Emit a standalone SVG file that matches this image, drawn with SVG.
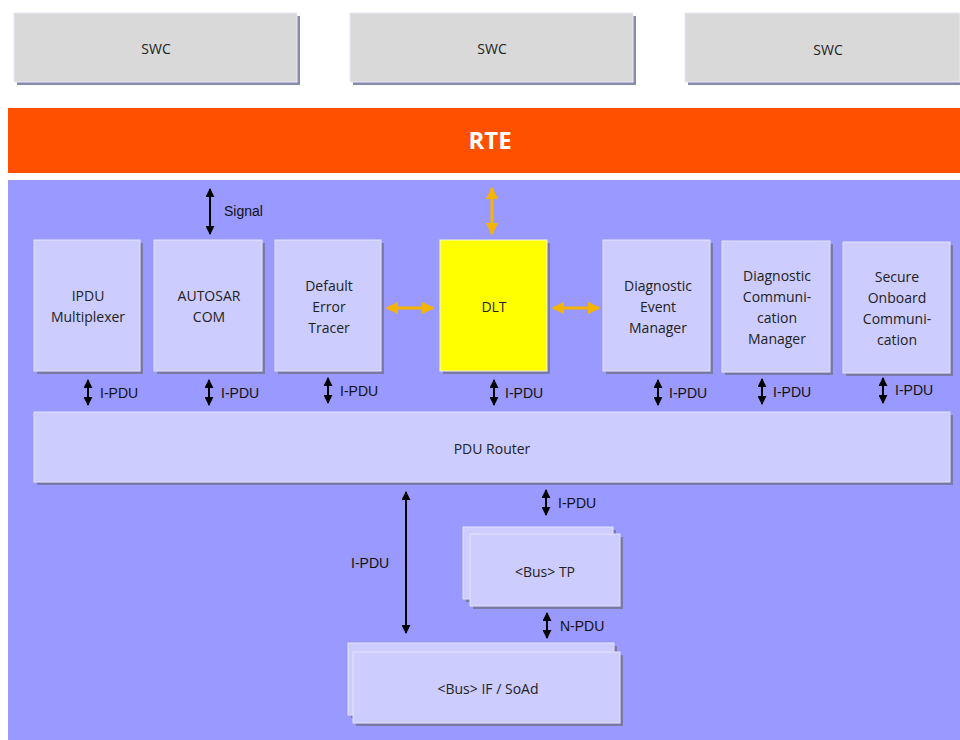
<svg xmlns="http://www.w3.org/2000/svg" width="960" height="740" viewBox="0 0 960 740">
<style>
.sh{fill:#7a7aa6}
.bx{fill:#ccccff;stroke:#e4e4ff;stroke-width:1}
.swc{fill:#d9d9d9;stroke:#e8e8f8;stroke-width:1}
.swcsh{fill:#8a8aaa}
.t{font-family:"Open Sans","Liberation Sans",sans-serif;font-size:14px;fill:#222;text-anchor:middle}
.ts{font-family:"Open Sans","Liberation Sans",sans-serif;font-size:14px;fill:#222;text-anchor:middle}
.lb{font-family:"Liberation Sans",Arial,sans-serif;font-size:14px;fill:#111}
.ar{stroke:#000;stroke-width:2;fill:none;marker-start:url(#ah);marker-end:url(#ah)}
.oa{stroke:#f5b400;stroke-width:3;fill:none;marker-start:url(#oh);marker-end:url(#oh)}
</style>
<defs>
<marker id="ah" viewBox="0 0 10 10" refX="9" refY="5" markerWidth="4.5" markerHeight="4.5" orient="auto-start-reverse" markerUnits="strokeWidth">
<path d="M0,0 L10,5 L0,10 z" fill="#000"/>
</marker>
<marker id="oh" viewBox="0 0 10 10" refX="9" refY="5" markerWidth="4.2" markerHeight="4.2" orient="auto-start-reverse" markerUnits="strokeWidth">
<path d="M0,0 L10,5 L0,10 z" fill="#f5b400"/>
</marker>
</defs>
<rect width="960" height="740" fill="#fff"/>
<g id="swc1"><rect class="swcsh" x="17" y="16" width="283" height="69"/><rect class="swc" x="14" y="13" width="283" height="69"/><text class="ts" x="156" y="54">SWC</text></g>
<g id="swc2"><rect class="swcsh" x="353" y="16" width="283" height="69"/><rect class="swc" x="350" y="13" width="283" height="69"/><text class="ts" x="492" y="54">SWC</text></g>
<g id="swc3"><rect class="swcsh" x="688" y="16" width="275" height="69"/><rect class="swc" x="685" y="13" width="275" height="69"/><text class="ts" x="828" y="55">SWC</text></g>
<g id="rte"><rect x="8" y="108" width="952" height="65" fill="#ff5000"/><text x="490" y="149" font-family="'Open Sans','Liberation Sans',sans-serif" font-size="24" font-weight="bold" fill="#fff" text-anchor="middle">RTE</text></g>
<rect id="bsw" x="8" y="180" width="952" height="560" fill="#9999ff"/>
<g id="ipdum"><rect class="sh" x="37" y="243" width="106" height="131"/><rect class="bx" x="34" y="240" width="106" height="131"/><text class="t" x="88" y="301">IPDU</text><text class="t" x="88" y="322">Multiplexer</text></g>
<g id="com"><rect class="sh" x="157" y="243" width="108" height="131"/><rect class="bx" x="154" y="240" width="108" height="131"/><text class="t" x="209" y="301">AUTOSAR</text><text class="t" x="209" y="322">COM</text></g>
<g id="det"><rect class="sh" x="278" y="243" width="106" height="131"/><rect class="bx" x="275" y="240" width="106" height="131"/><text class="t" x="329" y="291">Default</text><text class="t" x="329" y="312">Error</text><text class="t" x="329" y="333">Tracer</text></g>
<g id="dlt"><rect class="sh" x="443" y="243" width="107" height="131"/><rect x="440" y="240" width="107" height="131" fill="#ffff00" stroke="#f4f4e0"/><text class="t" x="494" y="312">DLT</text></g>
<g id="dem"><rect class="sh" x="606" y="243" width="107" height="131"/><rect class="bx" x="603" y="240" width="107" height="131"/><text class="t" x="658" y="291">Diagnostic</text><text class="t" x="658" y="312">Event</text><text class="t" x="658" y="333">Manager</text></g>
<g id="dcm"><rect class="sh" x="725" y="244" width="108" height="131"/><rect class="bx" x="722" y="241" width="108" height="131"/><text class="t" x="777" y="281">Diagnostic</text><text class="t" x="777" y="302">Communi-</text><text class="t" x="777" y="323">cation</text><text class="t" x="777" y="344">Manager</text></g>
<g id="secoc"><rect class="sh" x="846" y="245" width="107" height="131"/><rect class="bx" x="843" y="242" width="107" height="131"/><text class="t" x="897" y="282">Secure</text><text class="t" x="897" y="303">Onboard</text><text class="t" x="897" y="324">Communi-</text><text class="t" x="897" y="345">cation</text></g>
<g id="pdur"><rect class="sh" x="37" y="415" width="916" height="70"/><rect class="bx" x="34" y="412" width="916" height="70"/><text class="ts" x="492" y="454">PDU Router</text></g>
<g id="bustp"><rect class="sh" x="466" y="530" width="150" height="72"/><rect class="bx" x="463" y="527" width="150" height="72"/><rect class="sh" x="473" y="537" width="150" height="72"/><rect class="bx" x="470" y="534" width="150" height="72"/><text class="ts" x="545" y="577">&lt;Bus&gt; TP</text></g>
<g id="busif"><rect class="sh" x="351" y="646" width="266" height="72"/><rect class="bx" x="348" y="643" width="266" height="72"/><rect class="sh" x="356" y="655" width="267" height="71"/><rect class="bx" x="353" y="652" width="267" height="71"/><text class="ts" x="488" y="694">&lt;Bus&gt; IF / SoAd</text></g>
<g id="connectors">
<line class="ar" x1="210" y1="189" x2="210" y2="234"/>
<text class="lb" x="224" y="216">Signal</text>
<line class="oa" x1="492" y1="188" x2="492" y2="234"/>
<line class="oa" x1="387" y1="308" x2="433" y2="308"/>
<line class="oa" x1="553" y1="308" x2="599" y2="308"/>
<line class="ar" x1="88" y1="380" x2="88" y2="405"/><text class="lb" x="100" y="398">I-PDU</text>
<line class="ar" x1="209" y1="380" x2="209" y2="405"/><text class="lb" x="221" y="398">I-PDU</text>
<line class="ar" x1="328" y1="378" x2="328" y2="403"/><text class="lb" x="340" y="396">I-PDU</text>
<line class="ar" x1="494" y1="380" x2="494" y2="405"/><text class="lb" x="505" y="398">I-PDU</text>
<line class="ar" x1="658" y1="380" x2="658" y2="405"/><text class="lb" x="669" y="398">I-PDU</text>
<line class="ar" x1="762" y1="379" x2="762" y2="404"/><text class="lb" x="773" y="397">I-PDU</text>
<line class="ar" x1="883" y1="378" x2="883" y2="403"/><text class="lb" x="895" y="395">I-PDU</text>
<line class="ar" x1="406" y1="492" x2="406" y2="633"/><text class="lb" x="351" y="568">I-PDU</text>
<line class="ar" x1="546" y1="490" x2="546" y2="515"/><text class="lb" x="558" y="508">I-PDU</text>
<line class="ar" x1="547" y1="613" x2="547" y2="638"/><text class="lb" x="560" y="631">N-PDU</text>
</g>
</svg>
